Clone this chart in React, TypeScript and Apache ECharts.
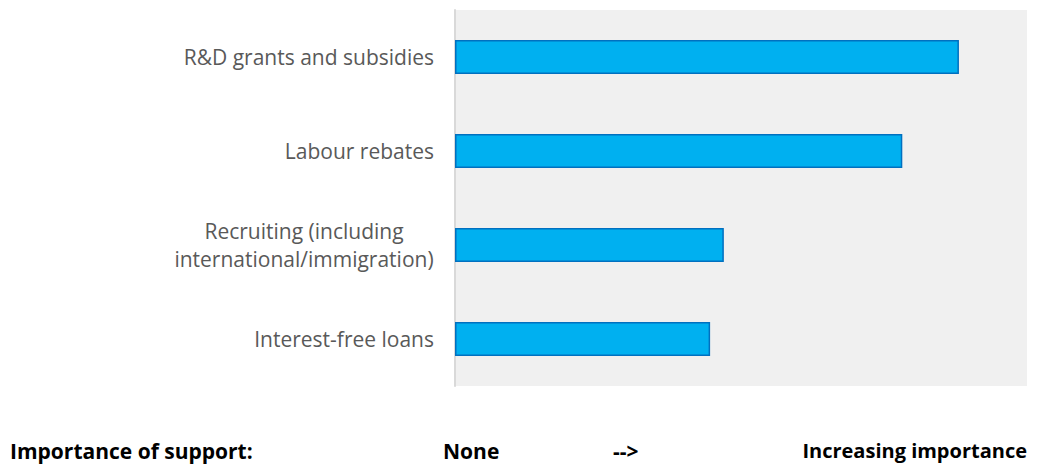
import React, { useEffect, useRef } from "react";
import * as echarts from "echarts";

const categories = [
  "R&D grants and subsidies",
  "Labour rebates",
  "Recruiting (including\ninternational/immigration)",
  "Interest-free loans",
];
const importanceValues = [0.881, 0.782, 0.47, 0.446];
const footerLabels = ["Importance of support:", "None", "-->", "Increasing importance"];

export default function App() {
  const ref = useRef<HTMLDivElement>(null);
  useEffect(() => {
    document.body.style.margin = "0";
    const chart = echarts.init(ref.current!, null, { renderer: "svg" });
    const footFont = "bold 21px 'Open Sans'";
    chart.setOption({
      animation: false,
      backgroundColor: "#ffffff",
      grid: {
        left: 455,
        right: 19,
        top: 10,
        bottom: 79,
        show: true,
        backgroundColor: "#f0f0f0",
        borderWidth: 0,
      },
      xAxis: {
        type: "value",
        min: 0,
        max: 1,
        axisLabel: { show: false },
        axisLine: { show: false },
        axisTick: { show: false },
        splitLine: { show: false },
      },
      yAxis: {
        type: "category",
        inverse: true,
        data: categories,
        axisLine: { show: true, lineStyle: { color: "#d9d9d9", width: 2 } },
        axisTick: { show: false },
        axisLabel: {
          margin: 21,
          color: "#595959",
          fontSize: 21,
          fontFamily: "Open Sans",
          align: "right",
          lineHeight: 28,
          formatter: (v: string) =>
            v.indexOf("\n") >= 0
              ? v
                  .split("\n")
                  .map((l) => "{c|" + l + "}")
                  .join("\n")
              : v,
          rich: {
            c: {
              width: 260,
              align: "center",
              fontSize: 21,
              fontFamily: "Open Sans",
              color: "#595959",
              lineHeight: 28,
            },
          },
        },
      },
      series: [
        {
          type: "bar",
          data: importanceValues,
          barCategoryGap: "64%",
          itemStyle: {
            color: "#00b0f0",
            borderColor: "#0070c0",
            borderWidth: 1.5,
          },
        },
      ],
      graphic: [
        {
          type: "text",
          left: 10,
          top: 440,
          style: { text: footerLabels[0], font: footFont, fill: "#000" },
        },
        {
          type: "text",
          left: 443,
          top: 440,
          style: { text: footerLabels[1], font: footFont, fill: "#000" },
        },
        {
          type: "text",
          left: 613,
          top: 440,
          style: { text: footerLabels[2], font: footFont, fill: "#000" },
        },
        {
          type: "text",
          right: 19,
          top: 440,
          style: { text: footerLabels[3], font: "bold 20px 'Open Sans'", fill: "#000" },
        },
      ],
    });
    return () => chart.dispose();
  }, []);
  return <div ref={ref} style={{ width: 1046, height: 465 }} />;
}
